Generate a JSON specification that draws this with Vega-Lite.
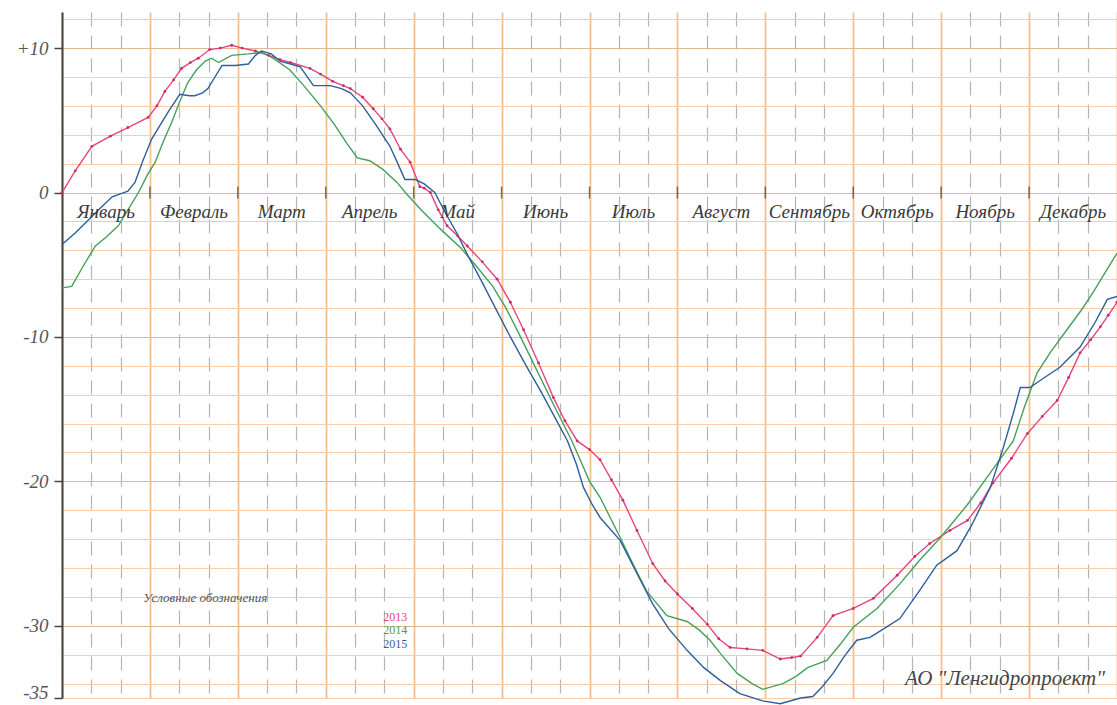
{
  "$schema": "https://vega.github.io/schema/vega-lite/v6.json",
  "width": 1055,
  "height": 686,
  "autosize": "none",
  "padding": {"left": 62, "top": 12, "right": 0, "bottom": 7},
  "background": "white",
  "config": {"view": {"stroke": null}},
  "datasets": {
    "series": [
      {"year":"2013","m":0.0,"v":0.0},{"year":"2013","m":0.15,"v":1.5},{"year":"2013","m":0.34,"v":3.2},{"year":"2013","m":0.55,"v":3.9},{"year":"2013","m":0.75,"v":4.5},{"year":"2013","m":0.98,"v":5.2},{"year":"2013","m":1.08,"v":6.0},{"year":"2013","m":1.17,"v":7.0},{"year":"2013","m":1.27,"v":7.8},{"year":"2013","m":1.36,"v":8.6},{"year":"2013","m":1.46,"v":9.0},{"year":"2013","m":1.55,"v":9.3},{"year":"2013","m":1.68,"v":9.9},{"year":"2013","m":1.8,"v":10.0},{"year":"2013","m":1.93,"v":10.2},{"year":"2013","m":2.05,"v":10.0},{"year":"2013","m":2.2,"v":9.8},{"year":"2013","m":2.35,"v":9.5},{"year":"2013","m":2.48,"v":9.2},{"year":"2013","m":2.6,"v":9.0},{"year":"2013","m":2.82,"v":8.6},{"year":"2013","m":2.94,"v":8.2},{"year":"2013","m":3.08,"v":7.7},{"year":"2013","m":3.2,"v":7.4},{"year":"2013","m":3.28,"v":7.2},{"year":"2013","m":3.42,"v":6.6},{"year":"2013","m":3.54,"v":5.8},{"year":"2013","m":3.64,"v":5.1},{"year":"2013","m":3.73,"v":4.4},{"year":"2013","m":3.85,"v":3.0},{"year":"2013","m":3.96,"v":2.1},{"year":"2013","m":4.07,"v":0.4},{"year":"2013","m":4.12,"v":0.3},{"year":"2013","m":4.19,"v":0.0},{"year":"2013","m":4.28,"v":-1.2},{"year":"2013","m":4.38,"v":-2.3},{"year":"2013","m":4.5,"v":-3.0},{"year":"2013","m":4.61,"v":-3.7},{"year":"2013","m":4.78,"v":-4.8},{"year":"2013","m":4.95,"v":-6.0},{"year":"2013","m":5.1,"v":-7.6},{"year":"2013","m":5.25,"v":-9.5},{"year":"2013","m":5.42,"v":-11.8},{"year":"2013","m":5.59,"v":-14.2},{"year":"2013","m":5.72,"v":-15.8},{"year":"2013","m":5.86,"v":-17.2},{"year":"2013","m":6.0,"v":-17.8},{"year":"2013","m":6.12,"v":-18.5},{"year":"2013","m":6.25,"v":-19.9},{"year":"2013","m":6.38,"v":-21.3},{"year":"2013","m":6.54,"v":-23.4},{"year":"2013","m":6.72,"v":-25.7},{"year":"2013","m":6.86,"v":-26.9},{"year":"2013","m":7.0,"v":-27.8},{"year":"2013","m":7.17,"v":-28.8},{"year":"2013","m":7.34,"v":-29.9},{"year":"2013","m":7.47,"v":-30.9},{"year":"2013","m":7.6,"v":-31.5},{"year":"2013","m":7.79,"v":-31.6},{"year":"2013","m":7.97,"v":-31.7},{"year":"2013","m":8.17,"v":-32.3},{"year":"2013","m":8.3,"v":-32.2},{"year":"2013","m":8.4,"v":-32.1},{"year":"2013","m":8.59,"v":-30.8},{"year":"2013","m":8.77,"v":-29.3},{"year":"2013","m":9.0,"v":-28.8},{"year":"2013","m":9.23,"v":-28.1},{"year":"2013","m":9.5,"v":-26.5},{"year":"2013","m":9.7,"v":-25.2},{"year":"2013","m":9.87,"v":-24.3},{"year":"2013","m":10.1,"v":-23.4},{"year":"2013","m":10.3,"v":-22.7},{"year":"2013","m":10.45,"v":-21.5},{"year":"2013","m":10.59,"v":-20.1},{"year":"2013","m":10.8,"v":-18.4},{"year":"2013","m":10.98,"v":-16.7},{"year":"2013","m":11.15,"v":-15.5},{"year":"2013","m":11.32,"v":-14.4},{"year":"2013","m":11.45,"v":-12.8},{"year":"2013","m":11.58,"v":-11.1},{"year":"2013","m":11.7,"v":-10.2},{"year":"2013","m":11.81,"v":-9.3},{"year":"2013","m":11.9,"v":-8.5},{"year":"2013","m":12.0,"v":-7.6},
      {"year":"2014","m":0.0,"v":-6.6},{"year":"2014","m":0.11,"v":-6.5},{"year":"2014","m":0.25,"v":-5.0},{"year":"2014","m":0.38,"v":-3.7},{"year":"2014","m":0.5,"v":-3.1},{"year":"2014","m":0.64,"v":-2.3},{"year":"2014","m":0.75,"v":-1.2},{"year":"2014","m":0.87,"v":0.0},{"year":"2014","m":0.97,"v":1.2},{"year":"2014","m":1.06,"v":2.1},{"year":"2014","m":1.15,"v":3.5},{"year":"2014","m":1.25,"v":4.9},{"year":"2014","m":1.34,"v":6.3},{"year":"2014","m":1.43,"v":7.6},{"year":"2014","m":1.53,"v":8.5},{"year":"2014","m":1.63,"v":9.1},{"year":"2014","m":1.7,"v":9.3},{"year":"2014","m":1.78,"v":9.0},{"year":"2014","m":1.93,"v":9.5},{"year":"2014","m":2.12,"v":9.6},{"year":"2014","m":2.27,"v":9.7},{"year":"2014","m":2.4,"v":9.3},{"year":"2014","m":2.59,"v":8.5},{"year":"2014","m":2.75,"v":7.4},{"year":"2014","m":2.94,"v":6.0},{"year":"2014","m":3.1,"v":4.7},{"year":"2014","m":3.24,"v":3.4},{"year":"2014","m":3.36,"v":2.4},{"year":"2014","m":3.5,"v":2.2},{"year":"2014","m":3.65,"v":1.6},{"year":"2014","m":3.81,"v":0.7},{"year":"2014","m":3.92,"v":-0.1},{"year":"2014","m":4.1,"v":-1.3},{"year":"2014","m":4.3,"v":-2.5},{"year":"2014","m":4.53,"v":-3.8},{"year":"2014","m":4.7,"v":-5.0},{"year":"2014","m":4.9,"v":-6.5},{"year":"2014","m":5.05,"v":-8.0},{"year":"2014","m":5.2,"v":-9.8},{"year":"2014","m":5.4,"v":-12.3},{"year":"2014","m":5.6,"v":-14.8},{"year":"2014","m":5.8,"v":-17.2},{"year":"2014","m":5.93,"v":-19.0},{"year":"2014","m":6.0,"v":-20.0},{"year":"2014","m":6.12,"v":-21.1},{"year":"2014","m":6.35,"v":-23.9},{"year":"2014","m":6.5,"v":-25.8},{"year":"2014","m":6.65,"v":-27.6},{"year":"2014","m":6.88,"v":-29.3},{"year":"2014","m":7.11,"v":-29.7},{"year":"2014","m":7.25,"v":-30.3},{"year":"2014","m":7.37,"v":-31.0},{"year":"2014","m":7.5,"v":-32.0},{"year":"2014","m":7.68,"v":-33.3},{"year":"2014","m":7.85,"v":-34.0},{"year":"2014","m":7.97,"v":-34.4},{"year":"2014","m":8.2,"v":-34.0},{"year":"2014","m":8.35,"v":-33.5},{"year":"2014","m":8.48,"v":-32.9},{"year":"2014","m":8.7,"v":-32.4},{"year":"2014","m":8.85,"v":-31.3},{"year":"2014","m":9.0,"v":-30.1},{"year":"2014","m":9.27,"v":-28.8},{"year":"2014","m":9.53,"v":-27.1},{"year":"2014","m":9.75,"v":-25.5},{"year":"2014","m":9.99,"v":-23.9},{"year":"2014","m":10.3,"v":-21.6},{"year":"2014","m":10.56,"v":-19.4},{"year":"2014","m":10.82,"v":-17.2},{"year":"2014","m":10.95,"v":-14.8},{"year":"2014","m":11.09,"v":-12.5},{"year":"2014","m":11.25,"v":-11.0},{"year":"2014","m":11.43,"v":-9.5},{"year":"2014","m":11.6,"v":-8.1},{"year":"2014","m":11.73,"v":-6.9},{"year":"2014","m":11.87,"v":-5.5},{"year":"2014","m":12.0,"v":-4.2},
      {"year":"2015","m":0.0,"v":-3.6},{"year":"2015","m":0.15,"v":-2.8},{"year":"2015","m":0.3,"v":-1.9},{"year":"2015","m":0.45,"v":-1.0},{"year":"2015","m":0.57,"v":-0.3},{"year":"2015","m":0.75,"v":0.1},{"year":"2015","m":0.83,"v":0.7},{"year":"2015","m":0.92,"v":2.2},{"year":"2015","m":1.02,"v":3.7},{"year":"2015","m":1.12,"v":4.7},{"year":"2015","m":1.21,"v":5.6},{"year":"2015","m":1.34,"v":6.8},{"year":"2015","m":1.45,"v":6.7},{"year":"2015","m":1.51,"v":6.7},{"year":"2015","m":1.6,"v":6.9},{"year":"2015","m":1.66,"v":7.2},{"year":"2015","m":1.74,"v":8.0},{"year":"2015","m":1.82,"v":8.8},{"year":"2015","m":1.97,"v":8.8},{"year":"2015","m":2.12,"v":8.9},{"year":"2015","m":2.2,"v":9.5},{"year":"2015","m":2.27,"v":9.8},{"year":"2015","m":2.38,"v":9.6},{"year":"2015","m":2.48,"v":9.1},{"year":"2015","m":2.6,"v":8.9},{"year":"2015","m":2.71,"v":8.7},{"year":"2015","m":2.86,"v":7.4},{"year":"2015","m":3.05,"v":7.4},{"year":"2015","m":3.18,"v":7.2},{"year":"2015","m":3.28,"v":6.9},{"year":"2015","m":3.42,"v":6.0},{"year":"2015","m":3.58,"v":4.6},{"year":"2015","m":3.73,"v":3.2},{"year":"2015","m":3.82,"v":2.0},{"year":"2015","m":3.9,"v":0.9},{"year":"2015","m":4.02,"v":0.9},{"year":"2015","m":4.12,"v":0.6},{"year":"2015","m":4.24,"v":0.0},{"year":"2015","m":4.36,"v":-1.4},{"year":"2015","m":4.49,"v":-2.8},{"year":"2015","m":4.62,"v":-4.4},{"year":"2015","m":4.76,"v":-6.0},{"year":"2015","m":4.93,"v":-8.0},{"year":"2015","m":5.1,"v":-10.0},{"year":"2015","m":5.28,"v":-12.0},{"year":"2015","m":5.45,"v":-13.8},{"year":"2015","m":5.6,"v":-15.5},{"year":"2015","m":5.75,"v":-17.2},{"year":"2015","m":5.85,"v":-18.8},{"year":"2015","m":5.93,"v":-20.4},{"year":"2015","m":6.03,"v":-21.6},{"year":"2015","m":6.12,"v":-22.5},{"year":"2015","m":6.35,"v":-24.1},{"year":"2015","m":6.55,"v":-26.5},{"year":"2015","m":6.72,"v":-28.5},{"year":"2015","m":6.9,"v":-30.2},{"year":"2015","m":7.11,"v":-31.7},{"year":"2015","m":7.3,"v":-32.9},{"year":"2015","m":7.49,"v":-33.8},{"year":"2015","m":7.71,"v":-34.7},{"year":"2015","m":7.97,"v":-35.2},{"year":"2015","m":8.17,"v":-35.4},{"year":"2015","m":8.4,"v":-35.0},{"year":"2015","m":8.54,"v":-34.9},{"year":"2015","m":8.65,"v":-34.2},{"year":"2015","m":8.77,"v":-33.3},{"year":"2015","m":8.9,"v":-32.1},{"year":"2015","m":9.04,"v":-31.0},{"year":"2015","m":9.19,"v":-30.8},{"year":"2015","m":9.35,"v":-30.2},{"year":"2015","m":9.53,"v":-29.5},{"year":"2015","m":9.75,"v":-27.6},{"year":"2015","m":9.95,"v":-25.8},{"year":"2015","m":10.18,"v":-24.8},{"year":"2015","m":10.35,"v":-23.0},{"year":"2015","m":10.56,"v":-20.4},{"year":"2015","m":10.7,"v":-17.8},{"year":"2015","m":10.82,"v":-15.3},{"year":"2015","m":10.9,"v":-13.5},{"year":"2015","m":11.01,"v":-13.5},{"year":"2015","m":11.13,"v":-13.0},{"year":"2015","m":11.35,"v":-12.1},{"year":"2015","m":11.58,"v":-10.7},{"year":"2015","m":11.75,"v":-9.0},{"year":"2015","m":11.89,"v":-7.4},{"year":"2015","m":12.0,"v":-7.2}
    ],
    "months": [
      {"month":"Январь","start":0,"mid":0.5},{"month":"Февраль","start":1,"mid":1.5},{"month":"Март","start":2,"mid":2.5},{"month":"Апрель","start":3,"mid":3.5},{"month":"Май","start":4,"mid":4.5},{"month":"Июнь","start":5,"mid":5.5},{"month":"Июль","start":6,"mid":6.5},{"month":"Август","start":7,"mid":7.5},{"month":"Сентябрь","start":8,"mid":8.5},{"month":"Октябрь","start":9,"mid":9.5},{"month":"Ноябрь","start":10,"mid":10.5},{"month":"Декабрь","start":11,"mid":11.5}
    ],
    "legend": [
      {"label":"2013","year":"2013","m":3.79,"v":-29.4},
      {"label":"2014","year":"2014","m":3.79,"v":-30.3},
      {"label":"2015","year":"2015","m":3.79,"v":-31.25}
    ],
    "notes": [
      {"label":"Условные обозначения","m":1.63,"v":-28.05,"kind":"legendtitle"},
      {"label":"АО \"Ленгидропроект\"","m":9.59,"v":-33.7,"kind":"company"}
    ]
  },
  "layer": [
    {
      "data": {"name": "series"},
      "mark": {"type": "line", "strokeWidth": 1.4, "interpolate": "linear"},
      "encoding": {
        "x": {
          "field": "m", "type": "quantitative",
          "scale": {"domain": [0, 12], "nice": false, "zero": false},
          "axis": {
            "title": null, "labels": false, "ticks": false, "domain": false,
            "tickCount": 200,
            "values": [0,0.3333,0.6667,1,1.3333,1.6667,2,2.3333,2.6667,3,3.3333,3.6667,4,4.3333,4.6667,5,5.3333,5.6667,6,6.3333,6.6667,7,7.3333,7.6667,8,8.3333,8.6667,9,9.3333,9.6667,10,10.3333,10.6667,11,11.3333,11.6667,12],
            "grid": true,
            "gridColor": {"condition": {"test": "abs(datum.value - round(datum.value)) > 0.01", "value": "#a8a8a8"}, "value": "#f2b77e"},
            "gridWidth": {"condition": {"test": "abs(datum.value - round(datum.value)) > 0.01", "value": 1.2}, "value": 1.8},
            "gridDash": {"condition": {"test": "abs(datum.value - round(datum.value)) > 0.01", "value": [14, 9]}, "value": []},
            "gridOpacity": 0.85
          }
        },
        "y": {
          "field": "v", "type": "quantitative",
          "scale": {"domain": [-35, 12.5], "nice": false, "zero": false},
          "axis": {
            "title": null,
            "tickCount": 200,
            "values": [-35,-34,-32,-30,-28,-26,-24,-22,-20,-18,-16,-14,-12,-10,-8,-6,-4,-2,0,2,4,6,8,10,12],
            "grid": true,
            "gridColor": {"condition": {"test": "datum.value % 10 === 0", "value": "#dcb895"}, "value": "#f5cda8"},
            "gridWidth": 1.1,
            "domainColor": "#444444", "domainWidth": 2,
            "tickColor": "#444444", "tickSize": 8, "tickWidth": 1.5,
            "tickOpacity": {"condition": {"test": "indexof([10,0,-10,-20,-30,-35], datum.value) >= 0", "value": 1}, "value": 0},
            "labelExpr": "datum.value == 10 ? '+10' : (indexof([0,-10,-20,-30,-35], datum.value) >= 0 ? '' + datum.value : '')",
            "labelBaseline": {"condition": {"test": "datum.value == -35", "value": "alphabetic"}, "value": "middle"},
            "labelFont": "Liberation Serif", "labelFontStyle": "italic", "labelFontSize": 19,
            "labelColor": "#555555", "labelPadding": 6, "labelBound": false, "labelOverlap": false
          }
        },
        "color": {
          "field": "year", "type": "nominal",
          "scale": {"domain": ["2013", "2014", "2015"], "range": ["#e4457f", "#45a05c", "#2d5f9c"]},
          "legend": null
        }
      }
    },
    {
      "mark": {"type": "rule", "color": "#3a3a3a", "strokeWidth": 2},
      "encoding": {"y": {"datum": 0}}
    },
    {
      "data": {"name": "months"},
      "transform": [{"filter": "datum.start > 0"}],
      "mark": {"type": "tick", "orient": "vertical", "color": "#3a3a3a", "size": 12, "thickness": 1.5},
      "encoding": {"x": {"field": "start", "type": "quantitative"}, "y": {"datum": 0}}
    },
    {
      "data": {"name": "months"},
      "mark": {"type": "text", "font": "Liberation Serif", "fontStyle": "italic", "fontSize": 19, "color": "#3a3a3a", "baseline": "middle", "align": "center"},
      "encoding": {"x": {"field": "mid", "type": "quantitative"}, "y": {"datum": -1.35}, "text": {"field": "month"}}
    },
    {
      "data": {"name": "series"},
      "transform": [{"filter": "datum.year === '2013'"}],
      "mark": {"type": "point", "filled": true, "size": 8, "color": "#c8305f", "opacity": 1},
      "encoding": {"x": {"field": "m", "type": "quantitative"}, "y": {"field": "v", "type": "quantitative"}}
    },
    {
      "data": {"name": "legend"},
      "mark": {"type": "text", "font": "Liberation Serif", "fontSize": 12, "align": "center", "baseline": "middle"},
      "encoding": {
        "x": {"field": "m", "type": "quantitative"},
        "y": {"field": "v", "type": "quantitative"},
        "text": {"field": "label"},
        "color": {"field": "year", "type": "nominal", "scale": {"domain": ["2013", "2014", "2015"], "range": ["#e4457f", "#45a05c", "#2d5f9c"]}, "legend": null}
      }
    },
    {
      "data": {"name": "notes"},
      "transform": [{"filter": "datum.kind === 'legendtitle'"}],
      "mark": {"type": "text", "font": "Liberation Serif", "fontStyle": "italic", "fontSize": 13, "color": "#555555", "align": "center", "baseline": "middle"},
      "encoding": {"x": {"field": "m", "type": "quantitative"}, "y": {"field": "v", "type": "quantitative"}, "text": {"field": "label"}}
    },
    {
      "data": {"name": "notes"},
      "transform": [{"filter": "datum.kind === 'company'"}],
      "mark": {"type": "text", "font": "Liberation Serif", "fontStyle": "italic", "fontSize": 21, "color": "#444444", "align": "left", "baseline": "middle"},
      "encoding": {"x": {"field": "m", "type": "quantitative"}, "y": {"field": "v", "type": "quantitative"}, "text": {"field": "label"}}
    }
  ]
}
